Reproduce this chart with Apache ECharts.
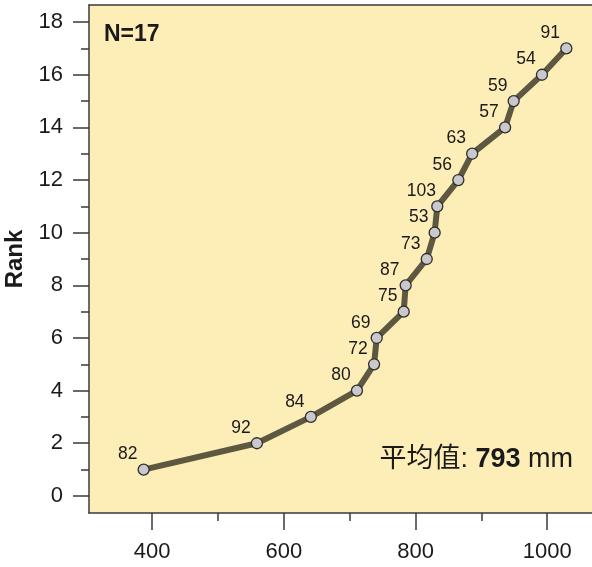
<!DOCTYPE html>
<html>
<head>
<meta charset="utf-8">
<script src="https://cdn.jsdelivr.net/npm/echarts@6/dist/echarts.min.js"></script>
<style>html,body{margin:0;padding:0;background:#fff}#c{width:592px;height:567px}</style>
</head>
<body>
<div id="c"></div>
<script>
// Data
const values = [387, 559, 641, 711, 737, 741, 782, 785, 817, 829, 833, 865, 886, 936, 949, 992, 1029];
const ranks = [1, 2, 3, 4, 5, 6, 7, 8, 9, 10, 11, 12, 13, 14, 15, 16, 17];
const pointLabels = [82, 92, 84, 80, 72, 69, 75, 87, 73, 53, 103, 56, 63, 57, 59, 54, 91];
const xMajorTicks = [400, 600, 800, 1000];
const xMinorTicks = [500, 700, 900];
const yMajorTicks = [0, 2, 4, 6, 8, 10, 12, 14, 16, 18];
const yMinorTicks = [1, 3, 5, 7, 9, 11, 13, 15, 17];

const meanVal = Math.round(values.reduce((a, b) => a + b, 0) / values.length);
const data = values.map((v, i) => [v, ranks[i]]);

const font = '"Liberation Sans", Arial, sans-serif';
const textColor = '#1a1a1a';
const axisColor = '#3a3a3a';

const chart = echarts.init(document.getElementById('c'));
const xRange = { min: 304, max: 1068 };
const yRange = { min: -0.65, max: 18.65 };

chart.setOption({
  animation: false,
  backgroundColor: '#ffffff',
  grid: {
    left: 89, top: 5, right: 0, bottom: 54,
    containLabel: false, outerBoundsMode: 'none',
    show: true, backgroundColor: '#fdedb7', borderWidth: 0
  },
  xAxis: [
    {
      type: 'value', position: 'bottom', ...xRange,
      axisLine: { show: true, onZero: false, lineStyle: { color: axisColor, width: 1.5 } },
      axisTick: { show: true, length: 17, customValues: xMajorTicks, lineStyle: { color: axisColor, width: 1.5 } },
      axisLabel: { show: true, customValues: xMajorTicks, margin: 28, fontSize: 22, color: textColor, fontFamily: font,
        formatter: (v) => String(v) },
      splitLine: { show: false }
    },
    {
      type: 'value', position: 'bottom', ...xRange,
      axisLine: { show: false, onZero: false },
      axisTick: { show: true, length: 8, customValues: xMinorTicks, lineStyle: { color: axisColor, width: 1.5 } },
      axisLabel: { show: false },
      splitLine: { show: false }
    },
    {
      type: 'value', position: 'top', ...xRange,
      axisLine: { show: true, onZero: false, lineStyle: { color: axisColor, width: 1.5 } },
      axisTick: { show: false },
      axisLabel: { show: false },
      splitLine: { show: false }
    }
  ],
  yAxis: [
    {
      type: 'value', position: 'left', ...yRange,
      name: 'Rank', nameLocation: 'middle', nameGap: 52,
      nameTextStyle: { fontSize: 24, fontWeight: 'bold', color: textColor, fontFamily: font },
      axisLine: { show: true, onZero: false, lineStyle: { color: axisColor, width: 1.5 } },
      axisTick: { show: true, length: 16, customValues: yMajorTicks, lineStyle: { color: axisColor, width: 1.5 } },
      axisLabel: { show: true, customValues: yMajorTicks, margin: 26, fontSize: 22, color: textColor, fontFamily: font,
        formatter: (v) => String(v) },
      splitLine: { show: false }
    },
    {
      type: 'value', position: 'left', ...yRange,
      axisLine: { show: false, onZero: false },
      axisTick: { show: true, length: 8, customValues: yMinorTicks, lineStyle: { color: axisColor, width: 1.5 } },
      axisLabel: { show: false },
      splitLine: { show: false }
    }
  ],
  series: [{
    type: 'line',
    xAxisIndex: 0, yAxisIndex: 0,
    data: data,
    symbol: 'circle',
    symbolSize: 11,
    lineStyle: { color: '#5e5840', width: 6 },
    itemStyle: { color: '#c9c9cd', borderColor: '#2e2e2e', borderWidth: 1.3 },
    label: {
      show: true, position: 'top', distance: 2, offset: [-16, 2],
      fontSize: 17.5, color: textColor, fontFamily: font,
      formatter: (p) => String(pointLabels[p.dataIndex])
    },
    z: 3
  }],
  graphic: [
    {
      type: 'text', left: 104, top: 23,
      style: { text: 'N=17', fontSize: 23, fontWeight: 'bold', fill: textColor, fontFamily: font }
    },
    {
      type: 'text', right: 19, top: 446,
      style: {
        text: '{a|平均值: }{b|' + meanVal + '}{a| mm}',
        rich: {
          a: { fontSize: 27, fill: textColor, fontFamily: '"Liberation Sans", "Noto Sans CJK SC", sans-serif' },
          b: { fontSize: 27, fontWeight: 'bold', fill: textColor, fontFamily: font }
        }
      }
    }
  ]
});
</script>
</body>
</html>
